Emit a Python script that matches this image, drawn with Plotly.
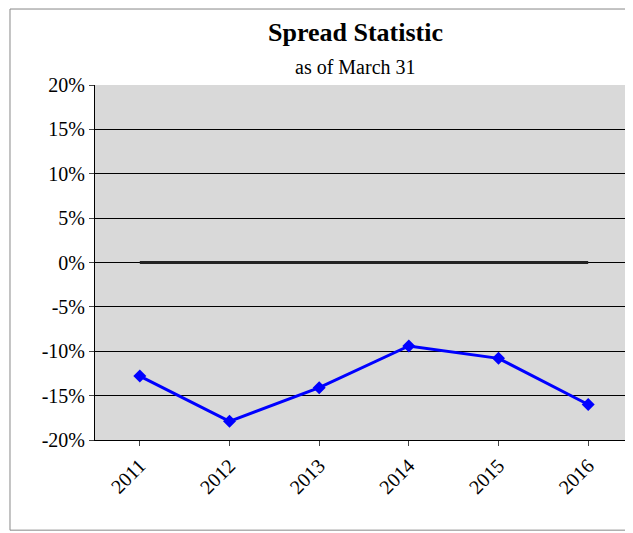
import plotly.graph_objects as go

years = ["2011", "2012", "2013", "2014", "2015", "2016"]
spread = [-0.128, -0.179, -0.141, -0.094, -0.108, -0.160]
zero_line = [0, 0, 0, 0, 0, 0]
tick_vals = [0.20, 0.15, 0.10, 0.05, 0, -0.05, -0.10, -0.15, -0.20]
tick_text = ["20%", "15%", "10%", "5%", "0%", "-5%", "-10%", "-15%", "-20%"]

fig = go.Figure()
fig.add_trace(go.Scatter(x=years, y=zero_line, mode="lines",
                         line=dict(color="#222222", width=3), showlegend=False))
fig.add_trace(go.Scatter(x=years, y=spread, mode="lines+markers",
                         line=dict(color="#0000ff", width=3),
                         marker=dict(symbol="diamond", size=10, color="#0000ff"),
                         showlegend=False))

fig.update_layout(
    width=625, height=525,
    margin=dict(l=87, r=0, t=77, b=93),
    paper_bgcolor="white", plot_bgcolor="#d9d9d9",
    font=dict(family="Liberation Serif", size=20, color="black"),
    xaxis=dict(type="category", tickangle=-45, showgrid=False, range=[-0.5, 5.5],
               showline=True, linecolor="black", ticks="outside", automargin=False,
               tickfont=dict(size=20)),
    yaxis=dict(range=[-0.2, 0.2], tickvals=tick_vals, ticktext=tick_text,
               showgrid=True, gridcolor="black", gridwidth=1, automargin=False,
               showline=True, linecolor="black", ticks="outside",
               zeroline=False, tickfont=dict(size=20)),
    annotations=[
        dict(text="<b>Spread Statistic</b>", xref="paper", yref="paper",
             x=0.485, y=1.0, yshift=53, showarrow=False,
             font=dict(size=26), xanchor="center", yanchor="middle"),
        dict(text="as of March 31", xref="paper", yref="paper",
             x=0.485, y=1.0, yshift=18, showarrow=False,
             font=dict(size=20), xanchor="center", yanchor="middle"),
    ],
    shapes=[dict(type="rect", xref="paper", yref="paper",
                 x0=-0.158, x1=0.994, y0=-0.254, y1=1.214,
                 line=dict(color="#888888", width=1))],
)

fig.write_html("out.html")
